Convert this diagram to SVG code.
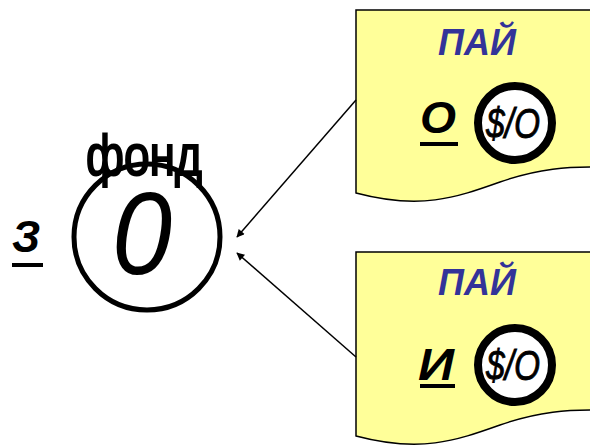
<svg xmlns="http://www.w3.org/2000/svg" width="590" height="446" viewBox="0 0 590 446">
<style>
.doc{fill:#FFFF99;stroke:#000;stroke-width:1.5}
.pai{font-family:"Liberation Sans",Arial,sans-serif;font-weight:bold;font-style:italic;font-size:36px;fill:#333399;text-anchor:middle}
.lbl{font-family:"Liberation Sans",Arial,sans-serif;font-weight:bold;font-style:italic;font-size:44px;fill:#000}
.ul{stroke:#000;stroke-width:4}
.coin{fill:#fff;stroke:#000;stroke-width:8}
.coint{font-family:"Liberation Sans",Arial,sans-serif;font-style:italic;font-size:43px;fill:#000;stroke:#000;stroke-width:0.8}
.fond{font-family:"Liberation Sans",Arial,sans-serif;font-size:57px;fill:#000;stroke:#000;stroke-width:2}
.conn{stroke:#000;stroke-width:1.5;fill:none;marker-end:url(#ah)}
</style>
<defs>
<marker id="ah" viewBox="0 0 10 10" refX="9" refY="5" markerWidth="9" markerHeight="8" orient="auto" markerUnits="userSpaceOnUse">
<path d="M0,0 L10,5 L0,10 z" fill="#000"/>
</marker>
</defs>
<g id="fund">
<text x="86" y="175" class="fond" textLength="116" lengthAdjust="spacingAndGlyphs">фонд</text>
<circle cx="147" cy="237" r="73" fill="none" stroke="#000" stroke-width="5"/>
<text x="112" y="274" font-family="Liberation Sans,Arial,sans-serif" font-style="italic" font-size="117" textLength="60" lengthAdjust="spacingAndGlyphs" fill="#000">0</text>
<text x="12" y="252" class="lbl" font-size="48">З</text>
<line x1="12" y1="265" x2="43" y2="265" class="ul"/>
</g>
<g id="pai-top">
<path class="doc" d="M356,10 L592,10 L592,167 C570,167 540,168 500,182 C455,198 420,210 356,193 Z"/>
<text x="477" y="55" class="pai">ПАЙ</text>
<text x="420" y="133" class="lbl" textLength="36" lengthAdjust="spacingAndGlyphs">О</text>
<line x1="420" y1="144" x2="458" y2="144" class="ul"/>
<circle cx="515" cy="123" r="37" class="coin"/>
<text x="486" y="138" class="coint" textLength="54" lengthAdjust="spacingAndGlyphs">$/O</text>
</g>
<g id="pai-bottom">
<path class="doc" d="M356,252 L592,252 L592,410 C570,410 540,411 500,425 C455,441 420,453 356,436 Z"/>
<text x="477" y="295" class="pai">ПАЙ</text>
<text x="418" y="380" class="lbl" textLength="36" lengthAdjust="spacingAndGlyphs">И</text>
<line x1="420" y1="386" x2="455" y2="386" class="ul"/>
<circle cx="515" cy="365" r="37" class="coin"/>
<text x="486" y="380" class="coint" textLength="54" lengthAdjust="spacingAndGlyphs">$/O</text>
</g>
<g id="connectors">
<line x1="356" y1="100" x2="237" y2="237" class="conn"/>
<line x1="356" y1="357" x2="237" y2="253" class="conn"/>
</g>
</svg>
